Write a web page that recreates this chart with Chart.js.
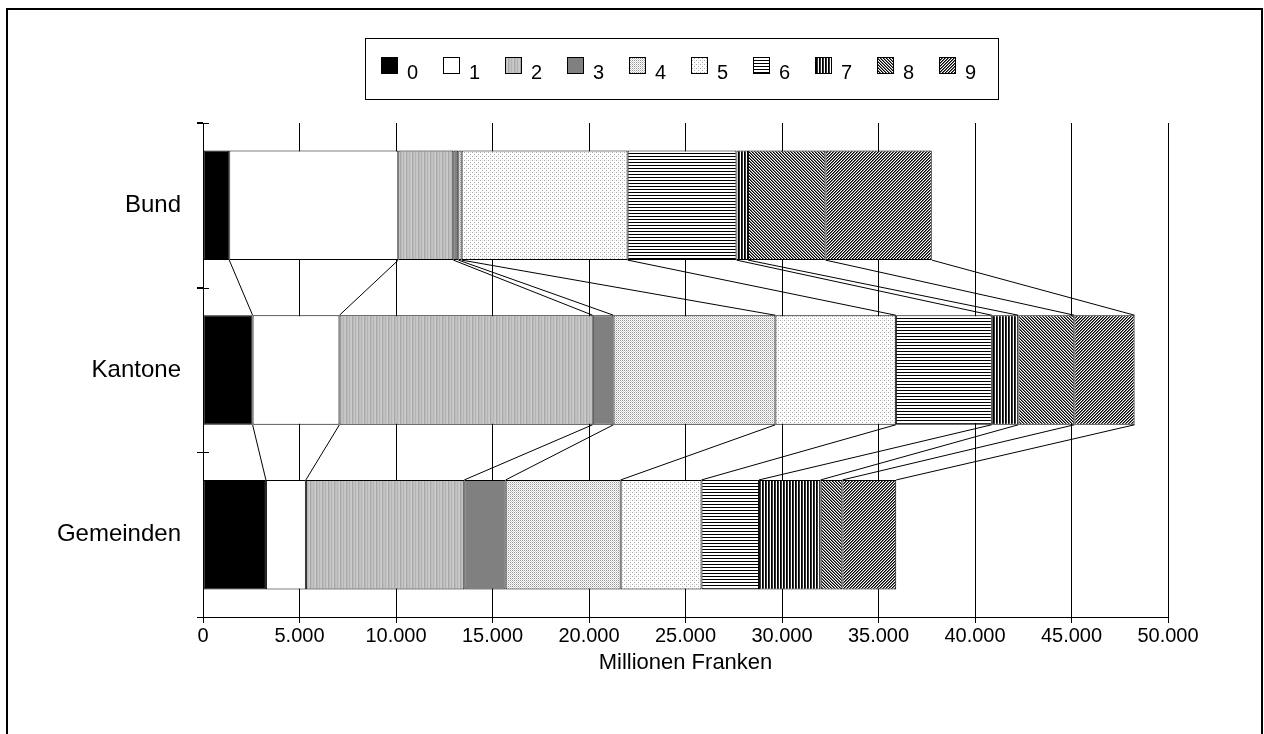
<!DOCTYPE html>
<html>
<head>
<meta charset="utf-8">
<script src="https://cdn.jsdelivr.net/npm/chart.js@4.4.0/dist/chart.umd.min.js"></script>
<style>
html, body { margin: 0; padding: 0; background: #fff; }
#wrap { width: 1264px; height: 734px; }
</style>
</head>
<body>
<div id="wrap"><canvas id="chart" width="1264" height="734"></canvas></div>
<script>
// values, Millionen Franken
const categories = ['Bund', 'Kantone', 'Gemeinden'];
const seriesNames = ['0', '1', '2', '3', '4', '5', '6', '7', '8', '9'];
const s0 = [1360, 2570, 3260];
const s1 = [8760, 4500, 2070];
const s2 = [2850, 13120, 8210];
const s3 = [260, 1080, 2140];
const s4 = [170, 8390, 5960];
const s5 = [8600, 6240, 4190];
const s6 = [5640, 4970, 2980];
const s7 = [600, 1380, 3190];
const s8 = [4010, 2900, 1130];
const s9 = [5510, 3120, 2790];
const seriesValues = [s0, s1, s2, s3, s4, s5, s6, s7, s8, s9];
const xMin = 0, xMax = 50000, xStep = 5000;

const family = "'Liberation Sans', Arial, sans-serif";

function makePattern(w, h, draw) {
    const c = document.createElement('canvas');
    c.width = w; c.height = h;
    const g = c.getContext('2d');
    g.fillStyle = '#fff';
    g.fillRect(0, 0, w, h);
    draw(g);
    return g.createPattern(c, 'repeat');
}
function px(g, x, y, col) { g.fillStyle = col; g.fillRect(x, y, 1, 1); }

const fills = [
    '#000000',
    '#ffffff',
    makePattern(6, 1, g => {
        ['#c4c4c4', '#b4b4b4', '#c4c4c4', '#cccccc', '#a8a8a8', '#bcbcbc'].forEach((c, i) => px(g, i, 0, c));
    }),
    '#808080',
    makePattern(2, 2, g => { px(g, 0, 0, '#999'); px(g, 1, 1, '#d0d0d0'); }),
    makePattern(4, 4, g => { px(g, 0, 0, '#aaa'); px(g, 2, 2, '#aaa'); px(g, 2, 0, '#e0e0e0'); }),
    makePattern(1, 3, g => { px(g, 0, 0, '#000'); }),
    makePattern(3, 1, g => { px(g, 0, 0, '#000'); px(g, 1, 0, '#333'); }),
    makePattern(3, 3, g => {
        for (let x = 0; x < 3; x++) for (let y = 0; y < 3; y++) {
            const d = ((x - y) % 3 + 3) % 3;
            if (d === 0) px(g, x, y, '#000');
            if (d === 1) px(g, x, y, '#777');
        }
    }),
    makePattern(3, 3, g => {
        for (let x = 0; x < 3; x++) for (let y = 0; y < 3; y++) {
            const d = (x + y) % 3;
            if (d === 0) px(g, x, y, '#000');
            if (d === 1) px(g, x, y, '#666');
        }
    })
];

function fmt(v) {
    return String(v).replace(/\B(?=(\d{3})+(?!\d))/g, '.');
}

// frame round the whole picture
const frame = {
    id: 'frame',
    beforeDraw(chart) {
        const ctx = chart.ctx;
        ctx.save();
        ctx.fillStyle = '#fff';
        ctx.fillRect(0, 0, chart.width, chart.height);
        ctx.strokeStyle = '#000';
        ctx.lineWidth = 2;
        ctx.strokeRect(7, 9, 1255, 800);
        ctx.restore();
    }
};

// lines joining the segment ends of neighbouring bars
const seriesLines = {
    id: 'seriesLines',
    afterDatasetsDraw(chart) {
        const ctx = chart.ctx;
        ctx.save();
        ctx.strokeStyle = '#000';
        ctx.lineWidth = 1;
        chart.data.datasets.forEach((ds, di) => {
            const bars = chart.getDatasetMeta(di).data;
            for (let i = 0; i < bars.length - 1; i++) {
                const a = bars[i], b = bars[i + 1];
                ctx.beginPath();
                ctx.moveTo(a.x, a.y + a.height / 2);
                ctx.lineTo(b.x, b.y - b.height / 2);
                ctx.stroke();
            }
        });
        // cross ticks on the category axis
        const area = chart.chartArea;
        const step = (area.bottom - area.top) / categories.length;
        for (let k = 0; k <= categories.length; k++) {
            const y = Math.round(area.top + k * step) + 0.5;
            ctx.beginPath();
            ctx.moveTo(area.left - 6, y);
            ctx.lineTo(area.left + 6, y);
            ctx.stroke();
        }
        ctx.restore();
    }
};

const legendBox = {
    id: 'legendBox',
    afterDraw(chart) {
        const ctx = chart.ctx;
        ctx.save();
        ctx.strokeStyle = '#000';
        ctx.lineWidth = 1;
        ctx.strokeRect(365.5, 38.5, 633, 61);
        ctx.font = '20px ' + family;
        ctx.textBaseline = 'alphabetic';
        chart.data.datasets.forEach((ds, i) => {
            const x = 381 + i * 62;
            ctx.fillStyle = ds.backgroundColor;
            ctx.fillRect(x, 57, 17, 17);
            ctx.strokeRect(x + 0.5, 57.5, 16, 16);
            ctx.fillStyle = '#000';
            ctx.fillText(ds.label, x + 26, 79);
        });
        ctx.restore();
    }
};

const ctx = document.getElementById('chart').getContext('2d');
const chart = new Chart(ctx, {
    type: 'bar',
    data: {
        labels: categories,
        datasets: seriesNames.map((name, i) => ({
            label: name,
            data: seriesValues[i],
            backgroundColor: fills[i],
            borderColor: '#000',
            borderWidth: 1,
            borderSkipped: false,
            barPercentage: 0.665,
            categoryPercentage: 1
        }))
    },
    options: {
        responsive: false,
        animation: false,
        indexAxis: 'y',
        layout: { padding: { top: 123, right: 96, bottom: 57, left: 0 } },
        plugins: {
            legend: { display: false },
            tooltip: { enabled: false }
        },
        scales: {
            x: {
                stacked: true,
                min: xMin,
                max: xMax,
                ticks: {
                    stepSize: xStep,
                    color: '#000',
                    padding: 1,
                    maxRotation: 0,
                    font: { size: 20, family: family },
                    callback: v => fmt(v)
                },
                grid: { color: '#000', lineWidth: 1, tickLength: 6, tickColor: '#000' },
                border: { color: '#000', width: 1 },
                title: {
                    display: true,
                    text: 'Millionen Franken',
                    color: '#000',
                    font: { size: 22, family: family },
                    padding: { top: 4, bottom: 1 }
                },
                afterFit: s => { s.height = 60; }
            },
            y: {
                stacked: true,
                ticks: { color: '#000', padding: 16, font: { size: 24, family: family } },
                grid: { offset: true, drawOnChartArea: false, tickLength: 6, color: '#000' },
                border: { color: '#000', width: 1 },
                afterFit: s => { s.width = 203; }
            }
        }
    },
    plugins: [frame, seriesLines, legendBox]
});
</script>
</body>
</html>
